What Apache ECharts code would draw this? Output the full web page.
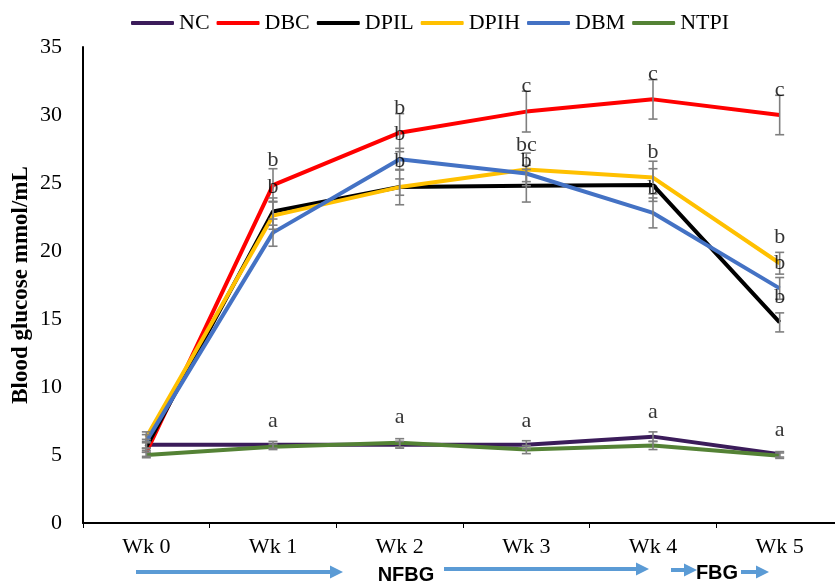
<!DOCTYPE html>
<html>
<head>
<meta charset="utf-8">
<script src="https://cdn.jsdelivr.net/npm/echarts@6/dist/echarts.min.js"></script>
<style>
  html, body { margin: 0; padding: 0; background: #fff; }
  #chart { width: 835px; height: 581px; }
</style>
</head>
<body>
<div id="chart"></div>
<script>
// weeks on the x axis
const weeks = ['Wk 0', 'Wk 1', 'Wk 2', 'Wk 3', 'Wk 4', 'Wk 5'];

// group means (mmol/mL)
const NC   = [5.75, 5.75, 5.75, 5.75, 6.35, 5.05];
const DBC  = [5.2, 24.85, 28.7, 30.25, 31.15, 30.0];
const DPIL = [5.6, 22.9, 24.7, 24.8, 24.85, 14.75];
const DPIH = [6.3, 22.6, 24.7, 26.0, 25.4, 19.1];
const DBM  = [6.0, 21.35, 26.75, 25.7, 22.8, 17.25];
const NTPI = [5.0, 5.6, 5.9, 5.4, 5.7, 4.95];

// error (+/-)
const NC_err   = [0.4, 0.25, 0.25, 0.3, 0.35, 0.2];
const DBC_err  = [0.3, 1.2, 1.4, 1.5, 1.45, 1.45];
const DPIL_err = [0.4, 1.0, 1.3, 1.2, 1.2, 0.7];
const DPIH_err = [0.4, 1.0, 0.6, 1.2, 1.2, 0.8];
const DBM_err  = [0.5, 1.0, 0.8, 0.6, 1.1, 0.8];
const NTPI_err = [0.2, 0.2, 0.3, 0.3, 0.3, 0.2];

// significance letters: [week index, y, letter]
const letters = [
  [1, 26.7, 'b'], [1, 24.7, 'b'],
  [2, 30.5, 'b'], [2, 28.6, 'b'], [2, 26.6, 'b'],
  [3, 32.1, 'c'], [3, 27.8, 'bc'], [3, 26.6, 'b'],
  [4, 33.0, 'c'], [4, 27.3, 'b'], [4, 24.6, 'b'],
  [5, 31.8, 'c'], [5, 21.0, 'b'], [5, 19.1, 'b'], [5, 16.6, 'b'],
  [1, 7.5, 'a'], [2, 7.75, 'a'], [3, 7.5, 'a'], [4, 8.15, 'a'], [5, 6.85, 'a']
];

const names = ['NC', 'DBC', 'DPIL', 'DPIH', 'DBM', 'NTPI'];
const means = [NC, DBC, DPIL, DPIH, DBM, NTPI];
const errs = [NC_err, DBC_err, DPIL_err, DPIH_err, DBM_err, NTPI_err];
const colors = ['#3b1c5a', '#ff0000', '#000000', '#ffc000', '#4472c4', '#548235'];

const serif = 'Liberation Serif';
const chart = echarts.init(document.getElementById('chart'));

// build error bar rows [x, low, high]
const errRows = [];
means.forEach((m, s) => {
  m.forEach((v, i) => errRows.push([i, v - errs[s][i], v + errs[s][i]]));
});

function arrow(x1, x2, y) {
  return [
    { type: 'line', shape: { x1: x1, y1: y, x2: x2 - 11, y2: y }, style: { stroke: '#5b9bd5', lineWidth: 4 } },
    { type: 'polygon', shape: { points: [[x2 - 13, y - 6.5], [x2, y], [x2 - 13, y + 6.5]] }, style: { fill: '#5b9bd5' } }
  ];
}

const lineSeries = names.map((n, s) => ({
  name: n, type: 'line', data: means[s],
  symbol: 'none', z: 2 + s,
  lineStyle: { color: colors[s], width: 4 },
  itemStyle: { color: colors[s] }
}));

chart.setOption({
  animation: false,
  backgroundColor: '#fff',
  legend: {
    data: names, left: 126, top: 7,
    icon: 'roundRect', itemWidth: 43, itemHeight: 4, itemGap: 7,
    textStyle: { fontFamily: serif, fontSize: 22, color: '#000' }
  },
  grid: { left: 83, top: 47, width: 760, height: 476, outerBoundsMode: 'none', containLabel: false },
  xAxis: {
    type: 'category', data: weeks, boundaryGap: true,
    axisLine: { lineStyle: { color: '#000', width: 2 } },
    axisTick: { show: true, length: 5, lineStyle: { color: '#000', width: 1 } },
    axisLabel: { fontFamily: serif, fontSize: 22, color: '#000', margin: 13 }
  },
  yAxis: {
    type: 'value', min: 0, max: 35, interval: 5,
    name: 'Blood glucose mmol/mL', nameLocation: 'middle', nameGap: 50, nameMoveOverlap: false,
    nameTextStyle: { fontFamily: serif, fontSize: 23, fontWeight: 'bold', color: '#000' },
    axisLine: { show: true, lineStyle: { color: '#000', width: 2 } },
    axisTick: { show: false },
    splitLine: { show: false },
    axisLabel: { fontFamily: serif, fontSize: 22, color: '#000', margin: 21 }
  },
  series: lineSeries.concat([
    {
      type: 'custom', name: 'err', data: errRows, z: 10,
      encode: { x: 0, y: [1, 2] },
      renderItem: (params, api) => {
        const x = api.value(0);
        const lo = api.coord([x, api.value(1)]);
        const hi = api.coord([x, api.value(2)]);
        const w = 4.5;
        const st = { stroke: '#7f7f7f', lineWidth: 1.6 };
        return {
          type: 'group', children: [
            { type: 'line', shape: { x1: lo[0], y1: lo[1], x2: hi[0], y2: hi[1] }, style: st },
            { type: 'line', shape: { x1: lo[0] - w, y1: lo[1], x2: lo[0] + w, y2: lo[1] }, style: st },
            { type: 'line', shape: { x1: hi[0] - w, y1: hi[1], x2: hi[0] + w, y2: hi[1] }, style: st }
          ]
        };
      }
    },
    {
      type: 'scatter', name: 'letters', data: letters, z: 12,
      symbol: 'circle', symbolSize: 1,
      itemStyle: { color: 'rgba(0,0,0,0)' },
      label: {
        show: true, position: 'inside',
        formatter: p => p.data[2],
        fontFamily: serif, fontSize: 22, color: '#000'
      }
    }
  ]),
  graphic: [].concat(
    arrow(136, 343, 572),
    arrow(444, 649, 569),
    arrow(671, 697, 570),
    arrow(741, 769, 572),
    [
      { type: 'text', x: 406, y: 575, style: { text: 'NFBG', fontFamily: 'Liberation Sans', fontWeight: 'bold', fontSize: 20, fill: '#000', align: 'center', verticalAlign: 'middle' } },
      { type: 'text', x: 717, y: 573, style: { text: 'FBG', fontFamily: 'Liberation Sans', fontWeight: 'bold', fontSize: 20, fill: '#000', align: 'center', verticalAlign: 'middle' } }
    ]
  )
});
</script>
</body>
</html>
